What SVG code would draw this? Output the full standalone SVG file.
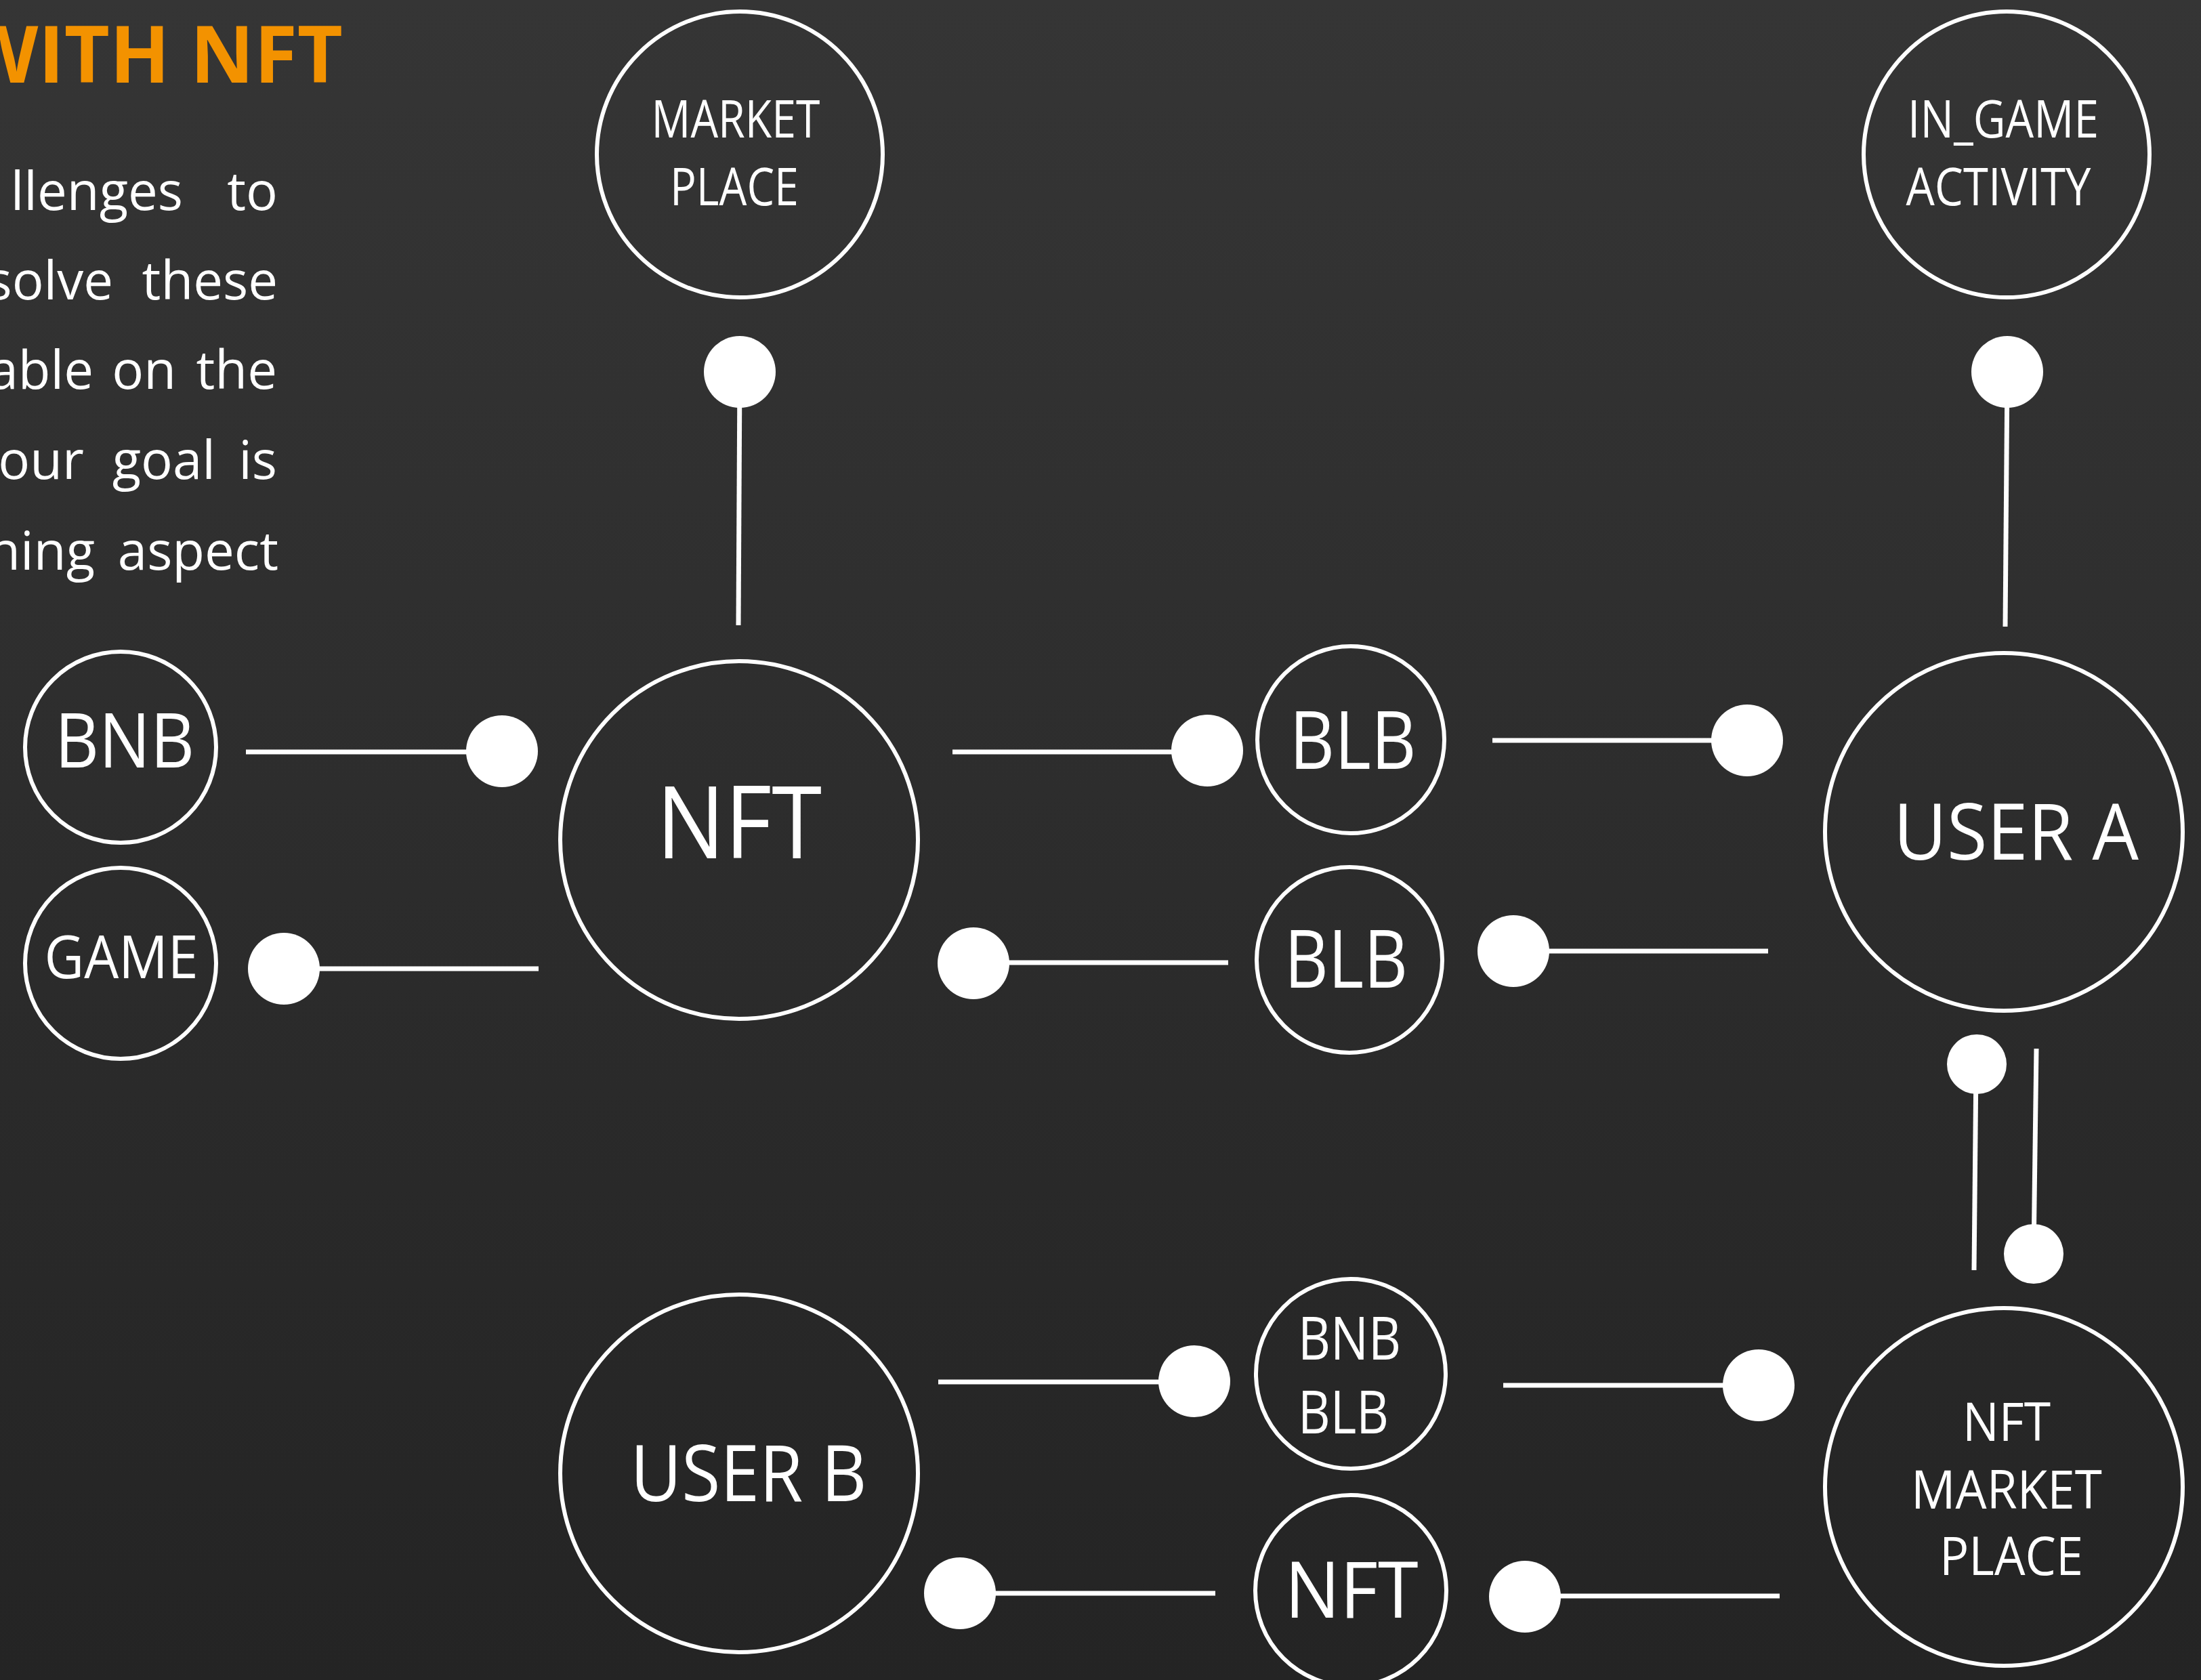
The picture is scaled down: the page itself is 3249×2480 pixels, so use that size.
<svg xmlns="http://www.w3.org/2000/svg" width="3249" height="2480" viewBox="0 0 3249 2480">
<defs>
<linearGradient id="bg" x1="0" y1="0" x2="0" y2="1">
<stop offset="0" stop-color="#353535"/>
<stop offset="1" stop-color="#242424"/>
</linearGradient>
</defs>
<style>
.node{fill:none;stroke:#ffffff;stroke-width:6}
.lbl{font-family:"Open Sans","Noto Sans","DejaVu Sans",sans-serif;fill:#ffffff;text-anchor:middle}
.con{stroke:#ffffff;stroke-width:7;fill:none}
.dot{fill:#ffffff}
.body{font-family:"Open Sans","Noto Sans","DejaVu Sans",sans-serif;fill:#ffffff;font-size:78px;text-anchor:end}
.title{font-family:"Open Sans","Noto Sans","DejaVu Sans",sans-serif;fill:#f39200;font-size:116px;font-weight:bold;text-anchor:end}
</style>
<rect x="0" y="0" width="3249" height="2480" fill="url(#bg)"/>
<g id="heading">
<text class="title" x="506" y="122">WITH NFT</text>
</g>
<g id="body-text">
<text class="body" x="270" y="310">llenges</text><text class="body" x="410" y="310">to</text>
<text class="body" x="167" y="442">solve</text><text class="body" x="410" y="442">these</text>
<text class="body" x="138" y="574">able</text><text class="body" x="260" y="574">on</text><text class="body" x="409" y="574">the</text>
<text class="body" x="124" y="707">our</text><text class="body" x="318" y="707">goal</text><text class="body" x="409" y="707">is</text>
<text class="body" x="140" y="841">ning</text><text class="body" x="411" y="841">aspect</text>
</g>
<g id="connectors">
<line class="con" x1="1092" y1="549" x2="1090" y2="923"/>
<circle class="dot" cx="1092" cy="549" r="53"/>
<line class="con" x1="2963" y1="549" x2="2960" y2="925"/>
<circle class="dot" cx="2963" cy="549" r="53"/>
<line class="con" x1="363" y1="1110" x2="741" y2="1110"/>
<circle class="dot" cx="741" cy="1109" r="53"/>
<line class="con" x1="419" y1="1430" x2="795" y2="1430"/>
<circle class="dot" cx="419" cy="1430" r="53"/>
<line class="con" x1="1406" y1="1110" x2="1782" y2="1110"/>
<circle class="dot" cx="1782" cy="1108" r="53"/>
<line class="con" x1="1437" y1="1421" x2="1813" y2="1421"/>
<circle class="dot" cx="1437" cy="1422" r="53"/>
<line class="con" x1="2203" y1="1093" x2="2579" y2="1093"/>
<circle class="dot" cx="2579" cy="1093" r="53"/>
<line class="con" x1="2234" y1="1404" x2="2610" y2="1404"/>
<circle class="dot" cx="2234" cy="1404" r="53"/>
<line class="con" x1="2917" y1="1571" x2="2914" y2="1875"/>
<circle class="dot" cx="2918" cy="1571" r="44"/>
<line class="con" x1="3006" y1="1548" x2="3002" y2="1851"/>
<circle class="dot" cx="3002" cy="1851" r="44"/>
<line class="con" x1="1385" y1="2040" x2="1763" y2="2040"/>
<circle class="dot" cx="1763" cy="2039" r="53"/>
<line class="con" x1="1417" y1="2352" x2="1794" y2="2352"/>
<circle class="dot" cx="1417" cy="2352" r="53"/>
<line class="con" x1="2219" y1="2045" x2="2596" y2="2045"/>
<circle class="dot" cx="2596" cy="2045" r="53"/>
<line class="con" x1="2251" y1="2356" x2="2627" y2="2356"/>
<circle class="dot" cx="2251" cy="2357" r="53"/>
</g>
<g id="market-place">
<circle class="node" cx="1092" cy="228" r="211"/>
<text class="lbl" x="1086" y="203" font-size="77" textLength="249" lengthAdjust="spacingAndGlyphs">MARKET</text>
<text class="lbl" x="1084" y="303" font-size="77" textLength="190" lengthAdjust="spacingAndGlyphs">PLACE</text>
</g>
<g id="in-game-activity">
<circle class="node" cx="2962" cy="228" r="211"/>
<text class="lbl" x="2957" y="203" font-size="77" textLength="282" lengthAdjust="spacingAndGlyphs">IN_GAME</text>
<text class="lbl" x="2950" y="303" font-size="77" textLength="273" lengthAdjust="spacingAndGlyphs">ACTIVITY</text>
</g>
<g id="bnb">
<circle class="node" cx="178" cy="1103" r="141"/>
<text class="lbl" x="184" y="1133" font-size="112" textLength="206" lengthAdjust="spacingAndGlyphs">BNB</text>
</g>
<g id="game">
<circle class="node" cx="178" cy="1422" r="141"/>
<text class="lbl" x="179" y="1444" font-size="88" textLength="227" lengthAdjust="spacingAndGlyphs">GAME</text>
</g>
<g id="nft">
<circle class="node" cx="1091" cy="1240" r="264"/>
<text class="lbl" x="1091" y="1267" font-size="148" textLength="244" lengthAdjust="spacingAndGlyphs">NFT</text>
</g>
<g id="blb-top">
<circle class="node" cx="1994" cy="1092" r="138"/>
<text class="lbl" x="1997" y="1135" font-size="119" textLength="187" lengthAdjust="spacingAndGlyphs">BLB</text>
</g>
<g id="blb-bottom">
<circle class="node" cx="1992" cy="1417" r="137"/>
<text class="lbl" x="1987" y="1458" font-size="119" textLength="182" lengthAdjust="spacingAndGlyphs">BLB</text>
</g>
<g id="user-a">
<circle class="node" cx="2958" cy="1228" r="264"/>
<text class="lbl" x="2976" y="1269" font-size="116" textLength="362" lengthAdjust="spacingAndGlyphs">USER A</text>
</g>
<g id="user-b">
<circle class="node" cx="1091" cy="2175" r="264"/>
<text class="lbl" x="1105" y="2216" font-size="116" textLength="349" lengthAdjust="spacingAndGlyphs">USER B</text>
</g>
<g id="bnb-blb">
<circle class="node" cx="1994" cy="2028" r="140"/>
<text class="lbl" x="1992" y="2007" font-size="87" textLength="152" lengthAdjust="spacingAndGlyphs">BNB</text>
<text class="lbl" x="1983" y="2116" font-size="87" textLength="134" lengthAdjust="spacingAndGlyphs">BLB</text>
</g>
<g id="nft-small">
<circle class="node" cx="1994" cy="2348" r="141"/>
<text class="lbl" x="1995" y="2388" font-size="115" textLength="197" lengthAdjust="spacingAndGlyphs">NFT</text>
</g>
<g id="nft-market-place">
<circle class="node" cx="2958" cy="2195" r="264"/>
<text class="lbl" x="2962" y="2127" font-size="78" textLength="130" lengthAdjust="spacingAndGlyphs">NFT</text>
<text class="lbl" x="2962" y="2227" font-size="78" textLength="282" lengthAdjust="spacingAndGlyphs">MARKET</text>
<text class="lbl" x="2969" y="2325" font-size="78" textLength="212" lengthAdjust="spacingAndGlyphs">PLACE</text>
</g>
</svg>
